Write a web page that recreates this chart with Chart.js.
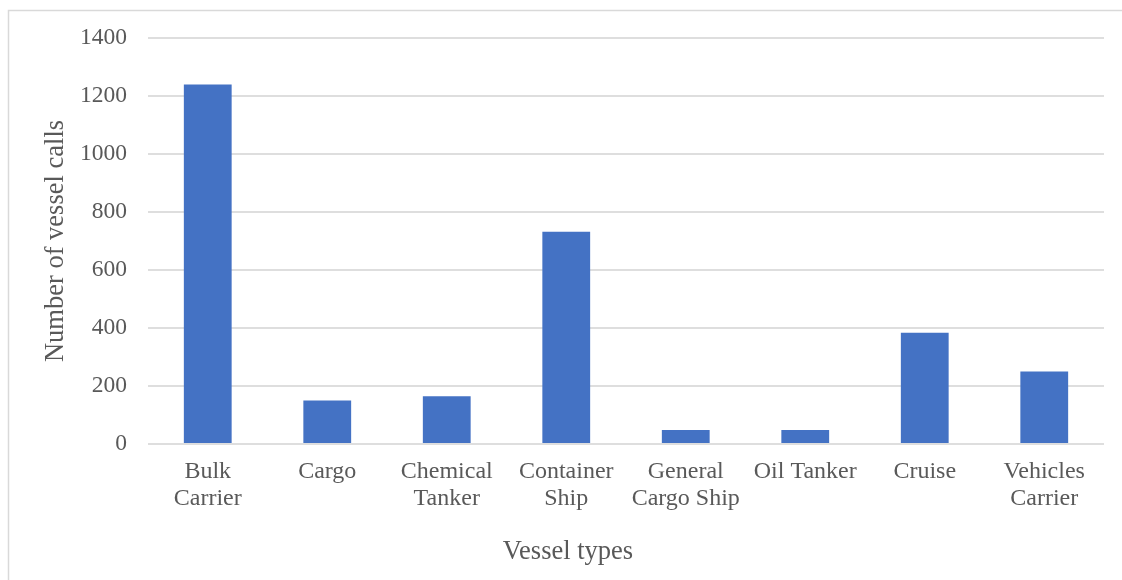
<!DOCTYPE html>
<html>
<head>
<meta charset="utf-8">
<script src="https://cdn.jsdelivr.net/npm/chart.js@4.4.0/dist/chart.umd.min.js"></script>
<style>
  html, body { margin: 0; padding: 0; background: #fff; overflow: hidden; }
  canvas { display: block; }
</style>
</head>
<body>
<canvas id="c" width="1122" height="580"></canvas>
<script>
const categories = [["Bulk", "Carrier"], "Cargo", ["Chemical", "Tanker"], ["Container", "Ship"], ["General", "Cargo Ship"], "Oil Tanker", "Cruise", ["Vehicles", "Carrier"]];
const vesselCalls = [1240, 150, 165, 732, 48, 48, 384, 250];
const yTitle = "Number of vessel calls";
const xTitle = "Vessel types";

const FONT = "'Liberation Serif', 'Times New Roman', serif";
const TXT = "#595959";

const framePlugin = {
  id: 'frame',
  beforeDraw(chart) {
    const ctx = chart.ctx;
    ctx.save();
    ctx.fillStyle = '#ffffff';
    ctx.fillRect(0, 0, chart.width, chart.height);
    ctx.strokeStyle = '#d9d9d9';
    ctx.lineWidth = 1.5;
    ctx.beginPath();
    ctx.moveTo(8.5, chart.height + 2);
    ctx.lineTo(8.5, 10.5);
    ctx.lineTo(chart.width + 2, 10.5);
    ctx.stroke();
    ctx.restore();
  }
};

const titlesPlugin = {
  id: 'axisTitles',
  afterDraw(chart) {
    const ctx = chart.ctx;
    ctx.save();
    ctx.fillStyle = TXT;
    ctx.font = "26.5px " + FONT;
    ctx.textAlign = "center";
    ctx.textBaseline = "middle";
    ctx.fillText(xTitle, 568, 552);
    ctx.translate(56, 241);
    ctx.rotate(-Math.PI / 2);
    ctx.fillText(yTitle, 0, 0);
    ctx.restore();
  }
};

new Chart(document.getElementById('c'), {
  type: 'bar',
  data: {
    labels: categories,
    datasets: [{
      data: vesselCalls,
      backgroundColor: '#4472C4',
      borderWidth: 0,
      categoryPercentage: 1,
      barPercentage: 0.4
    }]
  },
  options: {
    responsive: false,
    animation: false,
    devicePixelRatio: 1,
    layout: { padding: { left: 0, right: 18, top: 38, bottom: 0 } },
    plugins: { legend: { display: false }, tooltip: { enabled: false }, title: { display: false } },
    scales: {
      x: {
        grid: { display: false, drawTicks: false },
        border: { display: false },
        ticks: { color: TXT, font: { family: FONT, size: 24, lineHeight: 1.125 }, padding: 14, maxRotation: 0, autoSkip: false },
        afterFit(s) { s.height = 136; }
      },
      y: {
        min: 0, max: 1400,
        ticks: { stepSize: 200, color: TXT, font: { family: FONT, size: 23.5 }, padding: 21, callback: (v) => String(v) },
        grid: { color: '#dedede', lineWidth: 2, drawTicks: false },
        border: { display: false },
        afterFit(s) { s.width = 148; }
      }
    }
  },
  plugins: [framePlugin, titlesPlugin]
});
</script>
</body>
</html>
